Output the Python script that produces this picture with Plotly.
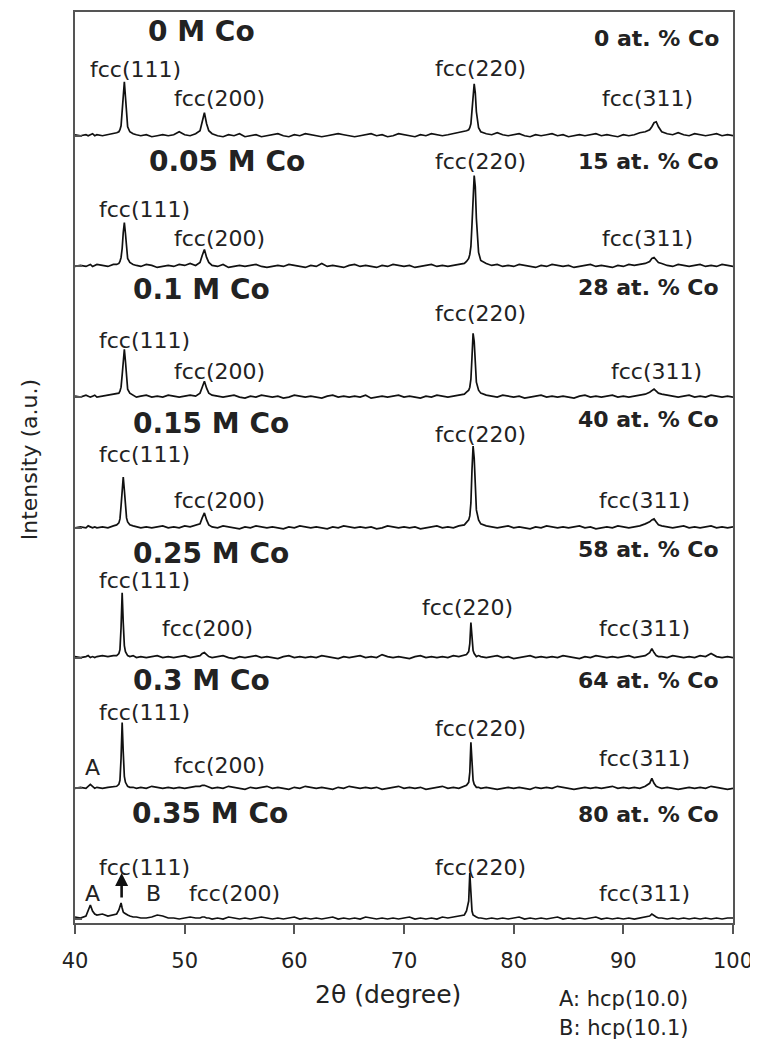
import plotly.graph_objects as go

# ---------------- data ----------------
two_theta = [
    40.0, 40.5, 41.0, 41.2, 41.4, 41.6, 41.8, 42.0, 42.5, 43.0, 43.5,
    43.8, 44.0, 44.1, 44.2, 44.3, 44.4, 44.5, 44.6, 44.7, 44.8, 45.0,
    45.3, 45.6, 46.0, 46.5, 47.0, 47.5, 48.0, 48.5, 49.0, 49.5, 50.0, 50.5, 51.0,
    51.4, 51.6, 51.8, 52.0, 52.2,
    52.5, 53.0, 53.5, 54.0, 54.5, 55.0, 55.5, 56.0, 56.5, 57.0, 57.5, 58.0, 58.5, 59.0, 59.5,
    60.0, 60.5, 61.0, 61.5, 62.0, 62.5, 63.0, 63.5, 64.0, 64.5, 65.0, 65.5, 66.0, 66.5, 67.0,
    67.5, 68.0, 68.5, 69.0, 69.5, 70.0, 70.5, 71.0, 71.5, 72.0, 72.5, 73.0, 73.5, 74.0, 74.5,
    75.0, 75.5,
    75.7, 75.9, 76.0, 76.1, 76.2, 76.3, 76.4, 76.5, 76.6, 76.8, 77.0,
    77.5, 78.0, 78.5, 79.0, 79.5, 80.0, 80.5, 81.0, 81.5, 82.0, 82.5, 83.0, 83.5, 84.0, 84.5,
    85.0, 85.5, 86.0, 86.5, 87.0, 87.5, 88.0, 88.5, 89.0, 89.5, 90.0, 90.5, 91.0, 91.5, 92.0,
    92.4, 92.6, 92.8, 93.0, 93.2,
    93.5, 94.0, 94.5, 95.0, 95.5, 96.0, 96.5, 97.0, 97.5, 98.0, 98.5, 99.0, 99.5, 100.0,
]

samples = ["0 M Co", "0.05 M Co", "0.1 M Co", "0.15 M Co", "0.25 M Co", "0.3 M Co", "0.35 M Co"]
compositions = ["0 at. % Co", "15 at. % Co", "28 at. % Co", "40 at. % Co",
                "58 at. % Co", "64 at. % Co", "80 at. % Co"]
offsets = [785, 654, 523, 392, 262, 131, 0]

I_0M = [
    1, 0, 1, 0, 1, 2, 0, 1, 0, 1, 2,
    3, 4, 6, 10, 22, 41, 54, 39, 20, 9, 4,
    2, 1, 0, 1, -1, 0, 1, 0, 1, 4, 1, 0, 2,
    5, 14, 23, 12, 5,
    2, 0, -1, 1, 0, 2, -1, 0, 1, -1, 0, 1, 2, 0, -1, 1, 0, 2, 1, 0, -1, 0, 1, 2, 1,
    0, -1, 0, 1, 2, 0, 1, -1, 0, 2, 1, 0, -1, 1, 0, 2, 1, 0, 1, 2, 3, 4,
    5, 6, 8, 12, 25, 44, 52, 43, 24, 8, 4,
    2, 1, 3, 1, 0, 1, 2, 0, -1, 1, 0, 1, 2, 0, 1, -1, 0, 1, 0, 1, 2, 0, 1, 0, -1, 1, 0, 1, 3, 4,
    6, 9, 13, 14, 9,
    4, 2, 1, 3, 1, 0, 2, 1, 0, 1, 2, 0, 1, 0,
]
I_005M = [
    0, 1, 0, 1, 2, 0, 1, 2, 1, 0, 2,
    2, 3, 5, 9, 18, 34, 44, 33, 17, 8, 4,
    2, 1, 0, 2, 1, -1, 0, 1, 0, 2, 1, 3, 1,
    4, 11, 17, 9, 4,
    1, 0, 2, -1, 0, 1, 0, 1, 2, 0, -1, 0, 1, 0, 2, 1, 0, -1, 1, 0, 3, 0, 1, 0, -1,
    1, 2, 0, 1, 0, -1, 1, 0, 2, 1, 0, 1, -1, 0, 1, 2, 0, 1, 0, 1, 2, 3,
    5, 8, 12, 20, 42, 78, 91, 80, 48, 14, 6,
    3, 1, 2, 0, 1, 0, 2, 1, 0, -1, 1, 0, 2, 1, 0, 1, -1, 0, 1, 2, 0, 1, 0, -1, 1, 0, 2, 1, 2, 3,
    5, 8, 9, 7, 4,
    3, 1, 0, 2, 1, 0, 1, 2, 0, 1, 0, 2, 1, 0,
]
I_01M = [
    1, 0, 2, 1, 0, 1, 2, 0, 1, 2, 3,
    3, 4, 6, 10, 22, 38, 48, 36, 18, 8, 4,
    2, 0, 1, 2, 0, 1, 0, 2, 1, 0, 1, 2, 1,
    4, 10, 16, 9, 4,
    2, 1, 0, 1, 2, 0, -1, 1, 0, 2, 1, 0, 1, -1, 0, 2, 1, 0, 1, 0, -1, 1, 2, 0, 1,
    0, 1, 0, 2, -1, 0, 1, 0, 1, 2, 0, 1, 0, -1, 1, 0, 2, 1, 0, 1, 2, 3,
    5, 7, 10, 18, 40, 64, 56, 30, 15, 7, 4,
    2, 1, 0, 2, 1, 0, 1, -1, 0, 1, 2, 0, 1, 0, 1, 0, -1, 1, 2, 0, 1, 0, 1, 2, 0, 1, 0, 1, 2, 3,
    5, 7, 8, 6, 4,
    3, 2, 1, 0, 1, 2, 0, 1, 0, 2, 1, 0, 1, 0,
]
I_015M = [
    0, 1, 0, 2, 1, 0, 1, 0, 1, 0, 2,
    3, 5, 9, 22, 40, 51, 38, 20, 10, 6, 3,
    2, 1, 0, 1, 0, 1, 2, 0, 1, 0, 2, 1, 3,
    4, 10, 15, 8, 3,
    1, 0, 2, 1, 0, -1, 1, 0, 2, 1, 0, 1, 0, -1, 1, 0, 2, 1, 0, 1, 0, -1, 1, 0, 2,
    1, 0, 1, 0, 1, -1, 0, 2, 1, 0, 1, 0, 1, -1, 0, 1, 2, 0, 1, 0, 2, 3,
    5, 8, 12, 25, 58, 82, 70, 40, 18, 8, 4,
    2, 1, 0, 1, 2, 0, 1, 0, -1, 1, 0, 2, 1, 0, 1, 0, 1, 2, 0, 1, -1, 0, 1, 0, 2, 1, 0, 1, 2, 4,
    6, 8, 9, 6, 3,
    2, 1, 0, 1, 2, 0, 1, 0, 1, 2, 0, 1, 0, 1,
]
I_025M = [
    1, 0, 1, 2, 0, 1, 0, 1, 2, 1, 2,
    2, 4, 8, 30, 65, 35, 12, 6, 4, 2, 1,
    2, 0, 1, 0, 1, 2, 0, 1, 0, 1, 2, 0, 1,
    2, 4, 5, 3, 1,
    0, 1, 2, 0, -1, 1, 0, 1, 2, 0, 1, 0, -1, 1, 2, 0, 1, 0, 1, 0, 2, 1, 0, -1, 1,
    0, 1, 2, 0, 1, 0, 3, 1, 0, 1, 0, -1, 1, 2, 0, 1, 0, 1, 0, 2, 1, 2,
    3, 6, 14, 35, 18, 7, 4, 2, 1, 2, 1,
    0, 1, 2, 0, 1, -1, 0, 1, 2, 0, 1, 0, 1, 0, 2, 1, 0, -1, 1, 0, 2, 1, 0, 1, 0, 1, 2, 0, 1, 2,
    5, 9, 5, 2, 1,
    1, 0, 2, 1, 0, 1, 0, 2, 1, 4, 1, 0, 1, 0,
]
I_03M = [
    0, 1, 0, 2, 4, 2, 0, 1, 0, 1, 2,
    2, 4, 8, 30, 66, 36, 12, 6, 3, 2, 1,
    1, 0, 1, 0, 2, 1, 0, 1, 0, 1, 0, 1, 2,
    2, 3, 3, 2, 1,
    0, 1, 0, 2, 1, 0, -1, 1, 0, 1, 2, 0, 1, 0, -1, 1, 0, 2, 1, 0, 1, 0, -1, 1, 0,
    2, 1, 0, 1, 0, 1, -1, 0, 1, 2, 0, 1, 0, 1, -1, 0, 1, 2, 0, 1, 0, 2,
    3, 6, 16, 46, 22, 8, 4, 2, 1, 1, 0,
    1, 0, -1, 0, 1, 0, 1, 0, -1, 1, 0, 1, 0, 2, 1, 0, -1, 0, 1, 0, 1, 0, 1, 2, 0, 1, 0, 1, 0, 2,
    5, 10, 5, 2, 1,
    0, 1, 0, -1, 0, 1, 0, 1, 0, 2, 1, 0, -1, 0,
]
I_035M = [
    2, 1, 3, 8, 14, 8, 5, 4, 5, 3, 4,
    5, 9, 13, 16, 11, 7, 6, 5, 4, 4, 3,
    2, 2, 1, 1, 2, 4, 3, 1, 1, 0, 1, 2, 1,
    1, 2, 2, 1, 1,
    0, 1, 0, 2, 1, 0, 1, 0, 1, 2, 1, 0, 1, 0, 1, 2, 0, 1, 0, 1, 0, 1, 2, 0, 1,
    0, 1, 0, 2, 1, 0, 1, 0, 1, 0, 1, 2, 0, 1, 0, 1, 0, 2, 1, 2, 3, 4,
    8, 18, 46, 20, 8, 4, 3, 2, 2, 1, 1,
    0, 1, 0, 1, 0, 1, 2, 0, 1, 0, 1, 0, 1, 2, 0, 1, 0, 1, 0, 1, 2, 0, 1, 0, 1, 0, 1, 0, 1, 2,
    3, 5, 3, 2, 1,
    1, 0, 1, 0, 1, 0, 1, 0, 1, 0, 1, 0, 1, 1,
]
intensities = [I_0M, I_005M, I_01M, I_015M, I_025M, I_03M, I_035M]
for arr in intensities:
    assert len(arr) == len(two_theta), (len(arr), len(two_theta))

x_ticks = [40, 50, 60, 70, 80, 90, 100]

# label placement (2theta, stacked intensity)
sample_label_x = [46.5, 46.6, 45.1, 45.1, 45.1, 45.1, 45.0]
sample_label_y = [889, 759, 631, 497, 366, 239, 106]
comp_label_x = 98.9
comp_label_y = [882, 759, 633, 501, 370, 239, 105]

peak_text = ["fcc(111)", "fcc(200)", "fcc(220)", "fcc(311)"] * 7 + ["A", "A", "B"]
peak_x = [45.56, 53.22, 77.02, 92.16,
          46.38, 53.22, 77.02, 92.16,
          46.38, 53.22, 77.02, 93.0,
          46.38, 53.22, 77.02, 91.97,
          46.38, 52.04, 75.83, 91.97,
          46.38, 53.22, 77.02, 91.97,
          46.38, 54.50, 77.02, 91.97,
          41.64, 41.64, 47.20]
peak_y = [851, 822, 852, 822,
          711, 682, 759, 682,
          580, 549, 607, 549,
          466, 419, 486, 419,
          339, 291, 312, 291,
          207, 154, 191, 161,
          52, 26, 52, 26,
          152, 26, 26]

# ---------------- figure ----------------
FONT = "DejaVu Sans"
TXT = "#222222"
AX = "#555555"

fig = go.Figure()
for off, arr in zip(offsets, intensities):
    fig.add_trace(go.Scatter(
        x=two_theta, y=[off + v for v in arr], mode="lines",
        line=dict(color="#111111", width=1.7), showlegend=False, hoverinfo="skip"))

ann = []
for t, x, y in zip(samples, sample_label_x, sample_label_y):
    ann.append(dict(x=x, y=y, text="<b>%s</b>" % t, showarrow=False, xanchor="left",
                    yanchor="middle", font=dict(family=FONT, size=28, color=TXT)))
for t, y in zip(compositions, comp_label_y):
    ann.append(dict(x=comp_label_x, y=y, text="<b>%s</b>" % t, showarrow=False, xanchor="right",
                    yanchor="middle", font=dict(family=FONT, size=22, color=TXT)))
for t, x, y in zip(peak_text, peak_x, peak_y):
    ann.append(dict(x=x, y=y, text=t, showarrow=False, xanchor="center", yanchor="middle",
                    font=dict(family=FONT, size=22, color=TXT)))
# arrow marking fcc(111) in the 0.35 M Co pattern
ann.append(dict(x=44.25, y=46, ax=0, ay=26, text="", showarrow=True, arrowhead=2,
                arrowsize=1, arrowwidth=2.6, arrowcolor="#111111"))
# axis titles and key
ann.append(dict(xref="paper", yref="paper", x=0.476, y=-0.079, text="2θ (degree)",
                showarrow=False, xanchor="center", yanchor="middle",
                font=dict(family=FONT, size=25, color=TXT)))
ann.append(dict(xref="paper", yref="paper", x=-0.07, y=0.509, text="Intensity (a.u.)",
                showarrow=False, textangle=-90, xanchor="center", yanchor="middle",
                font=dict(family=FONT, size=22, color=TXT)))
ann.append(dict(xref="paper", yref="paper", x=0.7325, y=-0.0832, text="A: hcp(10.0)",
                showarrow=False, xanchor="left", yanchor="middle",
                font=dict(family=FONT, size=21, color=TXT)))
ann.append(dict(xref="paper", yref="paper", x=0.7325, y=-0.1150, text="B: hcp(10.1)",
                showarrow=False, xanchor="left", yanchor="middle",
                font=dict(family=FONT, size=21, color=TXT)))

# the page body adds an 8 px margin, so the figure is shifted by 8 px
fig.update_layout(
    width=750, height=1032, autosize=False,
    margin=dict(l=67, r=25, t=2, b=117),
    paper_bgcolor="white", plot_bgcolor="white",
    annotations=ann,
    xaxis=dict(range=[40, 100], tickvals=x_ticks, ticktext=[str(v) for v in x_ticks],
               ticks="outside", ticklen=9, tickwidth=1.5, tickcolor=AX,
               showline=True, mirror=True, linecolor=AX, linewidth=1.6,
               showgrid=False, zeroline=False, ticklabelstandoff=9,
               ticklabeloverflow="allow",
               tickfont=dict(family=FONT, size=21, color=TXT)),
    yaxis=dict(range=[-4, 909], tickvals=offsets, ticks="inside", ticklen=7, tickwidth=1.5,
               tickcolor=AX, showticklabels=False,
               showline=True, mirror=True, linecolor=AX, linewidth=1.6,
               showgrid=False, zeroline=False),
)

fig.write_html("out.html")
